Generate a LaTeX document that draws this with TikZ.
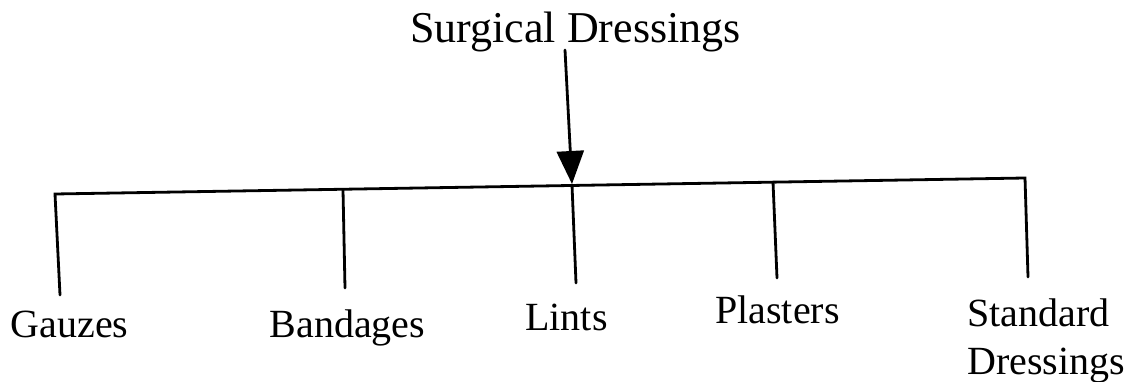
\documentclass[tikz,border=0pt]{standalone}
\usepackage{fontspec}
\setmainfont{Liberation Serif}
\usetikzlibrary{arrows.meta}
\tikzset{
  link/.style={line width=2.8pt, line cap=round, black},
  lbl/.style={inner sep=0pt, font=\fontsize{40}{48}\selectfont, anchor=base},
  ttl/.style={inner sep=0pt, font=\fontsize{44}{53}\selectfont, anchor=base}
}
\begin{document}
\begin{tikzpicture}[x=1pt,y=-1pt]
\useasboundingbox[fill=white] (0,0) rectangle (1126,382);
% title
\node[ttl] (title) at (575.5,43) {Surgical Dressings};
\coordinate (arrowstart) at (565,50);
\coordinate (hub) at (572,184);
% main bar
\coordinate (bl) at (55,194);
\coordinate (br) at (1025,178);
\coordinate (jb) at (343,190);
\coordinate (jl) at (572,185);
\coordinate (jp) at (773,182);
% lower ends
\coordinate (eg) at (60,295);
\coordinate (eb) at (345,288);
\coordinate (el) at (576,283);
\coordinate (ep) at (777,278);
\coordinate (es) at (1028,277);
% labels
\node[lbl] (gauzes) at (69.5,337) {Gauzes};
\node[lbl] (bandages) at (347.5,337) {Bandages};
\node[lbl] (lints) at (566.5,330) {Lints};
\node[lbl] (plasters) at (777.5,323) {Plasters};
\node[lbl, anchor=base west, align=left] (standard) at (967,374) {Standard\\Dressings};
% connectors
\draw[link, -{Triangle[width=27pt,length=33pt]}] (arrowstart) -- (hub);
\draw[link] (eg) -- (bl) -- (br) -- (es);
\draw[link] (jb) -- (eb);
\draw[link] (jl) -- (el);
\draw[link] (jp) -- (ep);
\end{tikzpicture}
\end{document}
